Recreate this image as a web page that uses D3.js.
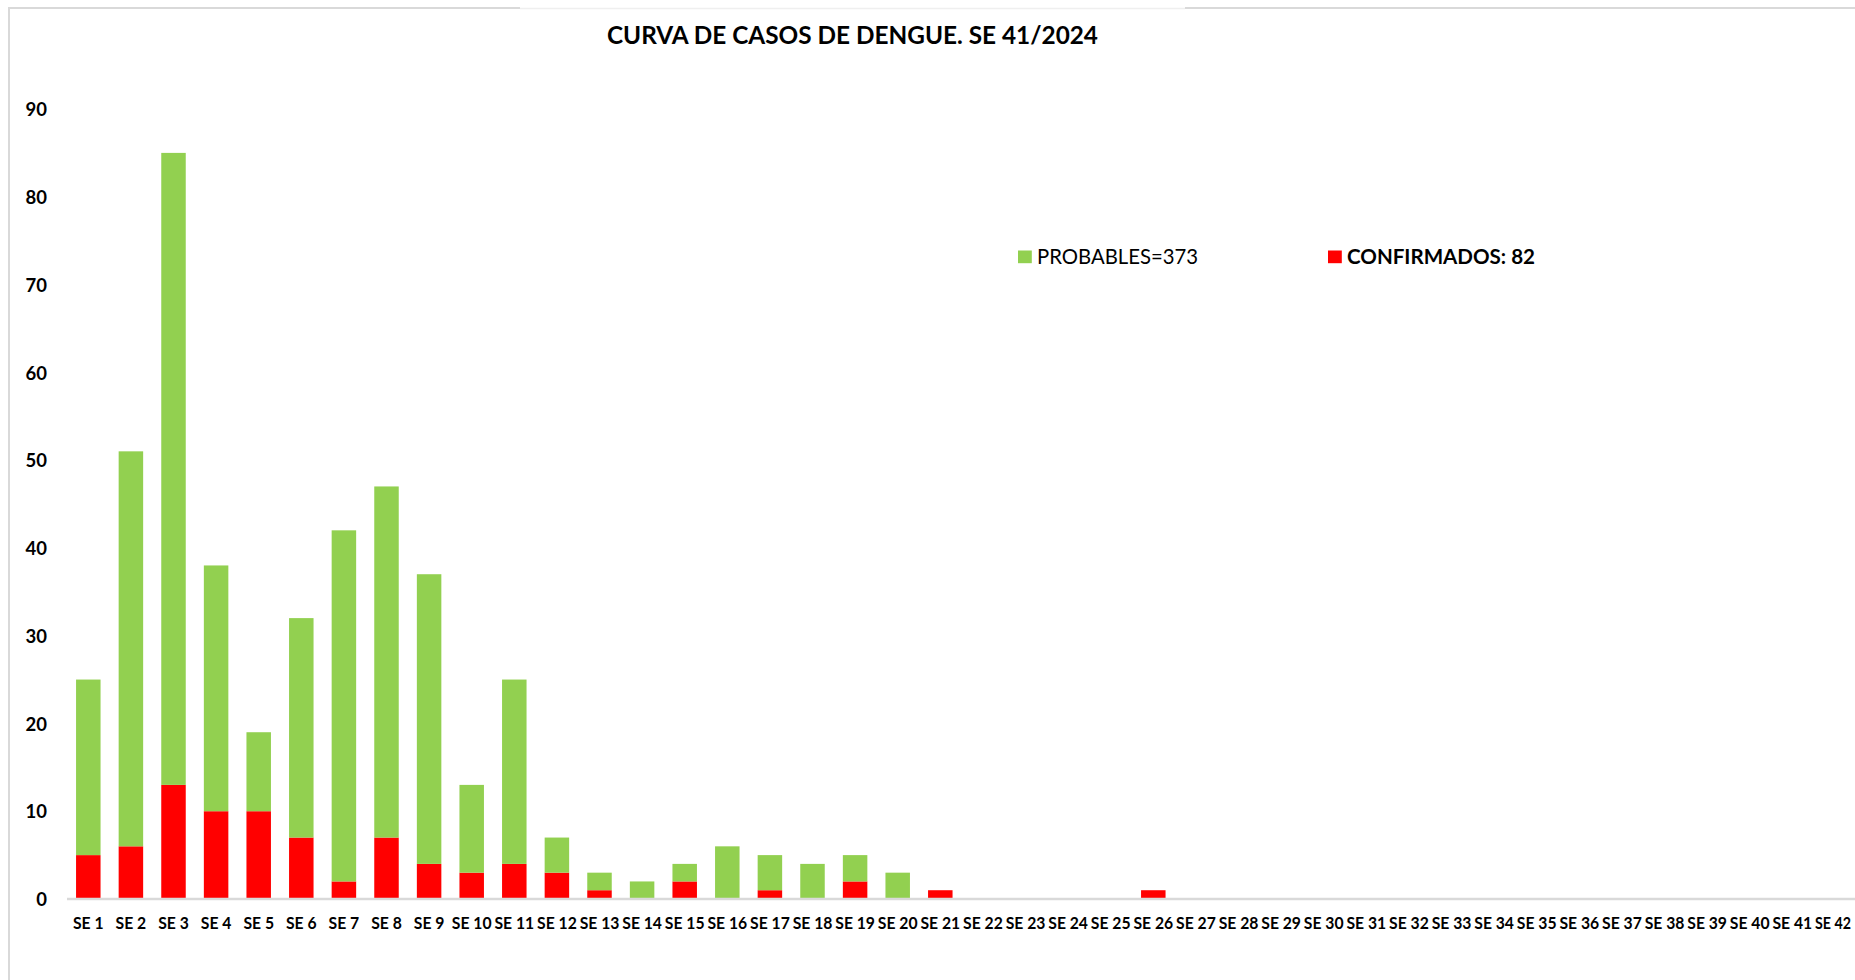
<!DOCTYPE html>
<html>
<head>
<meta charset="utf-8">
<script src="https://cdn.jsdelivr.net/npm/d3@7/dist/d3.min.js"></script>
<style>
  html, body { margin: 0; padding: 0; background: #ffffff; }
  svg { display: block; }
  text { font-family: Lato, "Open Sans", "Noto Sans", sans-serif; fill: #000; }
</style>
</head>
<body>
<svg id="chart" width="1855" height="980"></svg>
<script>
const title = "CURVA DE CASOS DE DENGUE. SE 41/2024";
const categories = ["SE 1","SE 2","SE 3","SE 4","SE 5","SE 6","SE 7","SE 8","SE 9","SE 10",
  "SE 11","SE 12","SE 13","SE 14","SE 15","SE 16","SE 17","SE 18","SE 19","SE 20",
  "SE 21","SE 22","SE 23","SE 24","SE 25","SE 26","SE 27","SE 28","SE 29","SE 30",
  "SE 31","SE 32","SE 33","SE 34","SE 35","SE 36","SE 37","SE 38","SE 39","SE 40",
  "SE 41","SE 42"];
const confirmados = [5,6,13,10,10,7,2,7,4,3,4,3,1,0,2,0,1,0,2,0,1,0,0,0,0,1,0,0,0,0,0,0,0,0,0,0,0,0,0,0,0,0];
const probables   = [20,45,72,28,9,25,40,40,33,10,21,4,2,2,2,6,4,4,3,3,0,0,0,0,0,0,0,0,0,0,0,0,0,0,0,0,0,0,0,0,0,0];
const yTicks = [0,10,20,30,40,50,60,70,80,90];
const legendLabels = ["PROBABLES=373", "CONFIRMADOS: 82"];
const colors = { probables: "#92d050", confirmados: "#ff0000" };

const svg = d3.select("#chart");

// chart frame (light gray border, cropped at right/bottom)
const frame = svg.append("g");
frame.append("line").attr("x1", 9).attr("x2", 9).attr("y1", 7).attr("y2", 980)
  .attr("stroke", "#d9d9d9").attr("stroke-width", 2);
frame.append("line").attr("x1", 8).attr("x2", 520).attr("y1", 8).attr("y2", 8)
  .attr("stroke", "#d9d9d9").attr("stroke-width", 2);
frame.append("line").attr("x1", 520).attr("x2", 1185).attr("y1", 8.5).attr("y2", 8.5)
  .attr("stroke", "#efefef").attr("stroke-width", 1.5);
frame.append("line").attr("x1", 1185).attr("x2", 1855).attr("y1", 8).attr("y2", 8)
  .attr("stroke", "#d9d9d9").attr("stroke-width", 2);

const plotLeft = 67, plotRight = 67 + 42 * 42.6;
const y0 = 899, y90 = 109;

const x = d3.scaleBand().domain(categories).range([plotLeft, plotRight])
  .paddingInner(0.425).paddingOuter(0.2125);
const y = d3.scaleLinear().domain([0, 90]).range([y0, y90]);

const data = categories.map((c, i) => ({ cat: c, confirmados: confirmados[i], probables: probables[i] }));
const stack = d3.stack().keys(["confirmados", "probables"]);
const series = stack(data);

svg.append("g").selectAll("g").data(series).join("g")
  .attr("fill", d => colors[d.key])
  .selectAll("rect").data(d => d).join("rect")
  .attr("x", d => x(d.data.cat))
  .attr("width", x.bandwidth())
  .attr("y", d => y(d[1]))
  .attr("height", d => Math.max(0, y(d[0]) - y(d[1])));

// x axis
const xAxis = svg.append("g").attr("transform", `translate(0,${y0})`)
  .call(d3.axisBottom(x).tickSize(0).tickPadding(0));
xAxis.select(".domain").attr("stroke", "#d9d9d9").attr("stroke-width", 2.5)
  .attr("d", `M${plotLeft},0H1855`);
xAxis.selectAll("text")
  .attr("y", 30).attr("dy", 0)
  .style("font-size", "17px").style("font-weight", "700")
  .style("font-family", "Lato, 'Open Sans', sans-serif").attr("fill", "#000");
// narrow the glyphs to mimic the original condensed face
const sample = xAxis.select("text").node().getComputedTextLength();
const kx = 30.6 / sample;
xAxis.selectAll("text").each(function() {
  const w = this.getComputedTextLength();
  d3.select(this).attr("textLength", w * kx).attr("lengthAdjust", "spacingAndGlyphs");
});
// keep the last label inside the picture: same start, slightly narrower if needed
xAxis.selectAll(".tick").filter((d, i, n) => i === n.length - 1).select("text")
  .each(function() {
    const w = +d3.select(this).attr("textLength");
    const cx = x(categories[categories.length - 1]) + x.bandwidth() / 2;
    const start = cx - w / 2;
    const nw = Math.min(w, 1851 - start);
    d3.select(this).attr("text-anchor", "start").attr("x", start - cx).attr("textLength", nw);
  });

// y axis
const yAxis = svg.append("g").attr("transform", `translate(47,0)`)
  .call(d3.axisLeft(y).tickValues(yTicks).tickSize(0).tickPadding(0).tickFormat(d3.format("d")));
yAxis.select(".domain").remove();
yAxis.selectAll("text")
  .attr("x", 0).attr("dy", "0.36em")
  .style("font-size", "18.5px").style("font-weight", "700")
  .style("font-family", "Lato, 'Open Sans', sans-serif").attr("fill", "#000");

// title
svg.append("text")
  .attr("x", 852.5).attr("y", 43.5)
  .attr("text-anchor", "middle")
  .style("font-size", "25px").style("font-weight", "700")
  .attr("textLength", 491).attr("lengthAdjust", "spacingAndGlyphs")
  .text(title);

// legend
const legendItems = [
  { key: "probables", label: legendLabels[0], sx: 1018, tx: 1037, tw: 161, bold: false },
  { key: "confirmados", label: legendLabels[1], sx: 1328, tx: 1347, tw: 188, bold: true }
];
const lg = svg.append("g");
legendItems.forEach(it => {
  lg.append("rect").attr("x", it.sx).attr("y", 250.5).attr("width", 13.8).attr("height", 12.7)
    .attr("fill", colors[it.key]);
  lg.append("text").attr("x", it.tx).attr("y", 264)
    .style("font-size", "20.5px").style("font-weight", it.bold ? "700" : "400")
    .attr("textLength", it.tw).attr("lengthAdjust", "spacingAndGlyphs")
    .text(it.label);
});
</script>
</body>
</html>
